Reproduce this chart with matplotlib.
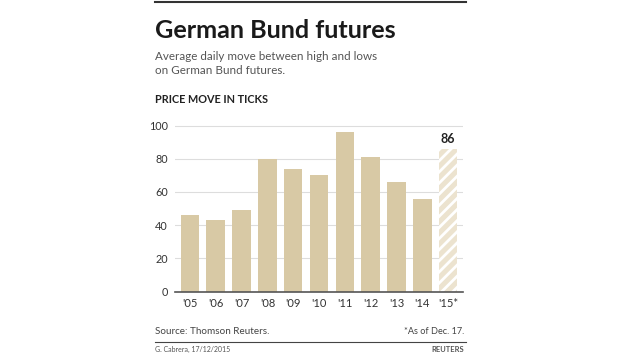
import matplotlib
matplotlib.use("Agg")
import matplotlib.pyplot as plt
from matplotlib.lines import Line2D

categories = ["'05", "'06", "'07", "'08", "'09", "'10", "'11", "'12", "'13", "'14", "'15*"]
values = [46, 43, 49, 80, 74, 70, 96, 81, 66, 56, 86]
yticks = [0, 20, 40, 60, 80, 100]

plt.rcParams['hatch.linewidth'] = 2.0

W, H = 620, 355
fig = plt.figure(figsize=(6.2, 3.55), dpi=100)
fig.patch.set_facecolor("white")

def fx(px):
    return px / W

def fy(py):
    return 1 - py / H

ax_left, ax_right = 175, 463
y_zero, y_hundred = 291.5, 125.5
ylim_top = 102
px_per_unit = (y_zero - y_hundred) / 100
ax_top = y_zero - ylim_top * px_per_unit
ax = fig.add_axes([fx(ax_left), fy(y_zero), (ax_right - ax_left) / W, (y_zero - ax_top) / H])

font = "Lato"
bar_color = "#d8c9a5"
xs = list(range(len(categories)))
for i, (x, v) in enumerate(zip(xs, values)):
    if i == len(values) - 1:
        ax.bar(x, v, width=0.72, color="#ece3cf", edgecolor="white", hatch="///", linewidth=0, zorder=2)
    else:
        ax.bar(x, v, width=0.72, color=bar_color, linewidth=0, zorder=2)

ax.set_xlim(-0.58, 10.58)
ax.set_ylim(0, ylim_top)
ax.set_yticks(yticks)
ax.set_yticklabels([str(t) for t in yticks], fontsize=7.8, color="#333333", family=font)
ax.set_xticks(xs)
ax.set_xticklabels(categories, fontsize=8, color="#333333", family=font)
ax.tick_params(axis="y", length=0, pad=5)
ax.tick_params(axis="x", length=0, pad=5)
for t in yticks[1:]:
    ax.axhline(t, color="#dddddd", linewidth=0.8, zorder=1)
for s in ["top", "right", "left"]:
    ax.spines[s].set_visible(False)
ax.spines["bottom"].set_color("#555555")
ax.spines["bottom"].set_linewidth(1.2)
ax.spines["bottom"].set_zorder(3)
ax.set_facecolor("none")

ax.text(xs[-1], values[-1] + 2, str(values[-1]), ha="center", va="bottom",
        fontsize=9, fontweight="bold", color="#222222", family=font)

# header
fig.add_artist(Line2D([fx(155), fx(466)], [fy(1.5), fy(1.5)], color="#333333", linewidth=1.5))
fig.text(fx(155), fy(30), "German Bund futures", fontsize=18.2, fontweight="bold",
         color="#1a1a1a", family=font, va="center", ha="left")
fig.text(fx(155), fy(56), "Average daily move between high and lows", fontsize=8.4,
         color="#555555", family=font, va="center")
fig.text(fx(155), fy(70.5), "on German Bund futures.", fontsize=8.4,
         color="#555555", family=font, va="center")
fig.text(fx(155), fy(99), "PRICE MOVE IN TICKS", fontsize=7.8, fontweight="bold",
         color="#222222", family=font, va="center")

# footer
fig.text(fx(155), fy(332), "Source: Thomson Reuters.", fontsize=7.1, color="#444444",
         family=font, va="center")
fig.text(fx(464), fy(332), "*As of Dec. 17.", fontsize=6.6, color="#444444",
         family=font, va="center", ha="right")
fig.add_artist(Line2D([fx(155), fx(466)], [fy(342), fy(342)], color="#444444", linewidth=0.8))
fig.text(fx(155), fy(349.5), "G. Cabrera, 17/12/2015", fontsize=5, color="#555555",
         family=font, va="center")
fig.text(fx(464), fy(349.5), "REUTERS", fontsize=5.5, fontweight="bold", color="#555555",
         family=font, va="center", ha="right")

fig.savefig("out.png", dpi=100, facecolor="white")
